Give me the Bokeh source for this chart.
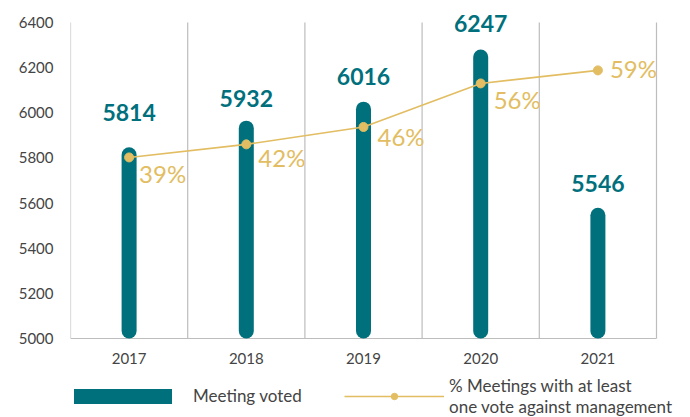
from bokeh.plotting import figure
from bokeh.models import (ColumnDataSource, Range1d, FixedTicker, Legend,
                          LegendItem, LabelSet)
from bokeh.embed import file_html
from bokeh.resources import INLINE
from bokeh.core.properties import value

years = ["2017", "2018", "2019", "2020", "2021"]
meetings = [5814, 5932, 6016, 6247, 5546]
pct = [39, 42, 46, 56, 59]
pct_labels = ["39%", "42%", "46%", "56%", "59%"]

TEAL = "#00707D"
GOLD = "#E2BD62"
GRID = "#BDBDBD"
TXT = "#444444"
FONT = "Lato"

Y0, Y1 = 5000, 6400            # primary axis span
P0, P1 = -2.6, 70.0            # percent scale at the same two rows
W, H = 690, 417
BL, BR, BT, BB = 70, 0, 4, 0
ROW_6400, ROW_5000 = 22, 338   # pixel rows of the 6400 and 5000 lines
COL_RIGHT = 656                # pixel column of the last separator
span_px = ROW_5000 - ROW_6400
px = (Y1 - Y0) / span_px
ppx = (P1 - P0) / span_px
above = ROW_6400 - BT
below = H - BB - ROW_5000
BAR_W = 15

n = len(years)
col_px = (COL_RIGHT - BL) / n
xs = [i + 0.5 for i in range(n)]
src = ColumnDataSource(dict(
    x=xs, top=meetings, bottom=[Y0 + (BAR_W / 2) * px] * n, base=[Y0] * n,
    year=years,
    lbl=[str(m) for m in meetings],
    lbl_off=[42, 30, 33, 34, 32],
    pct=pct, plbl=pct_labels,
    px_off=[10, 12, 14, 13, 12],
    py_off=[-16, -13, -10, -16, 2],
))
bounds = list(range(n + 1))
gsrc = ColumnDataSource(dict(x=bounds, y0=[Y0] * (n + 1), y1=[Y1] * (n + 1)))

p = figure(width=W, height=H, output_backend="svg", toolbar_location=None,
           x_range=Range1d(0, n + (W - BR - COL_RIGHT) / col_px),
           y_range=Range1d(Y0 - below * px, Y1 + above * px),
           x_axis_location=None,
           min_border_left=BL, min_border_right=BR, min_border_top=BT,
           min_border_bottom=BB, outline_line_color=None)
p.extra_y_ranges = {"pct": Range1d(P0 - below * ppx, P1 + above * ppx)}

# y axis
p.yaxis.ticker = FixedTicker(ticks=list(range(Y0, Y1 + 1, 200)))
p.yaxis.axis_line_color = None
p.yaxis.major_tick_line_color = None
p.yaxis.major_tick_out = 0
p.yaxis.major_tick_in = 0
p.yaxis.minor_tick_line_color = None
p.yaxis.major_label_standoff = 17
p.yaxis.major_label_text_font = FONT
p.yaxis.major_label_text_font_size = "15px"
p.yaxis.major_label_text_color = TXT

p.xgrid.grid_line_color = None
p.ygrid.grid_line_color = None

# vertical separators and baseline
p.segment(x0="x", y0="y0", x1="x", y1="y1", source=gsrc,
          line_color=GRID, line_width=1.2)
p.segment(x0=[0], y0=[Y0], x1=[n], y1=[Y0], line_color=GRID, line_width=1.2)

# x category labels
p.add_layout(LabelSet(x="x", y="base", text="year", source=src, y_offset=-20,
                      text_align="center", text_baseline="middle",
                      text_font=value(FONT), text_font_size="15px", text_color=TXT))

# bars
bars = p.segment(x0="x", y0="bottom", x1="x", y1="top", source=src,
                 line_color=TEAL, line_width=BAR_W, line_cap="round")

# line
ln = p.line(x="x", y="pct", source=src, y_range_name="pct", line_color=GOLD, line_width=1.6)
pts = p.scatter(x="x", y="pct", source=src, y_range_name="pct", size=9,
                fill_color=GOLD, line_color=GOLD)

# value labels
p.add_layout(LabelSet(x="x", y="top", text="lbl", source=src, y_offset="lbl_off",
                      text_align="center", text_baseline="middle",
                      text_font=value(FONT), text_font_style="bold",
                      text_font_size="23px", text_color=TEAL))
p.add_layout(LabelSet(x="x", y="pct", text="plbl", source=src, y_range_name="pct",
                      x_offset="px_off", y_offset="py_off",
                      text_align="left", text_baseline="middle",
                      text_font=value(FONT), text_font_size="24px", text_color=GOLD))

# legends
def mk_leg(items, loc, standoff, gw, lh):
    lg = Legend(items=items, location=loc, orientation="horizontal",
                padding=0, margin=0, spacing=0, border_line_color=None,
                background_fill_alpha=0, glyph_width=gw, glyph_height=16,
                label_standoff=standoff, label_text_font=FONT,
                label_text_font_size="17px", label_text_color=TXT,
                label_text_line_height=lh, label_height=20)
    p.add_layout(lg, "center")
    return lg

mk_leg([LegendItem(label="Meeting voted", renderers=[bars])], (4, 11), 21, 98, 1.2)
mk_leg([LegendItem(label="% Meetings with at least\none vote against management",
                   renderers=[ln, pts])], (274, 0), 5, 100, 1.3)

open("out.html", "w").write(file_html(p, INLINE))
